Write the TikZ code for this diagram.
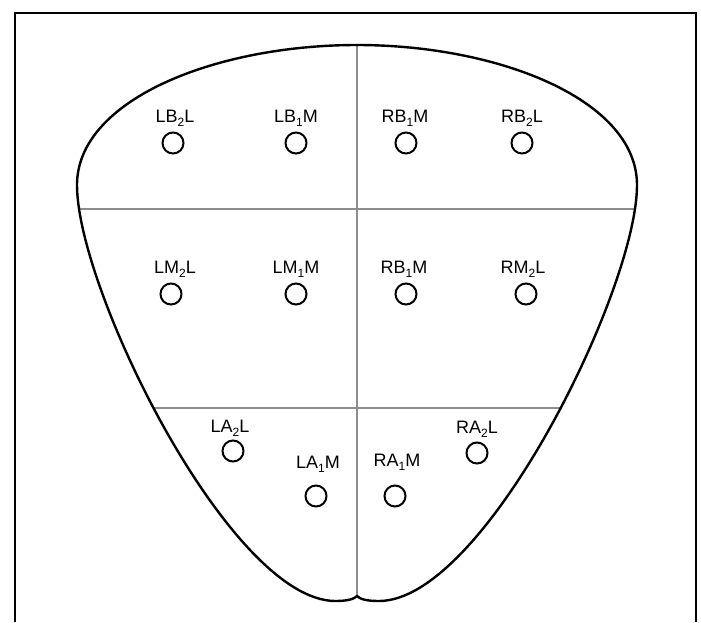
\documentclass[tikz,border=0pt]{standalone}
\usepackage{fontspec}
\setmainfont{Liberation Sans}
\usetikzlibrary{positioning}
\newcommand\lowidx[1]{\raisebox{-0.45ex}{\fontsize{6pt}{7pt}\selectfont #1}}

\begin{document}
\begin{tikzpicture}[x=0.5pt, y=-0.5pt,
    outline/.style={line width=1.2pt},
    divider/.style={line width=0.8pt, black!45},
    site/.style={circle, draw, line width=1pt, minimum size=10.5pt, inner sep=0pt},
    tag/.style={font=\fontsize{9pt}{10pt}\selectfont, inner sep=0pt, anchor=base}]
    \useasboundingbox (0,0) rectangle (701,622);

    % frame (open at the bottom)
    \coordinate (fbl) at (15,622);
    \coordinate (ftl) at (15,13);
    \coordinate (ftr) at (696,13);
    \coordinate (fbr) at (696,622);
    \draw[line width=1.2pt] (fbl) -- (ftl) -- (ftr) -- (fbr);

    \def\tongue{(357,45)
        .. controls (215,45) and (77,100) .. (77,185)
        .. controls (77,290) and (230,600) .. (335,601)
        .. controls (348,601) and (354,599) .. (357,596)
        .. controls (360,599) and (366,601) .. (379,601)
        .. controls (484,601) and (637,290) .. (637,185)
        .. controls (637,100) and (499,45) .. (357,45) -- cycle}

    % zones
    \begin{scope}
        \clip \tongue;
        \draw[divider] (357,30) -- (357,620);
        \draw[divider] (50,209) -- (660,209);
        \draw[divider] (50,408) -- (660,408);
    \end{scope}
    \draw[outline] \tongue;

    % back row
    \node[site] (lb2l) at (173,143) {};
    \node[tag] (lb2l-t) at (175,122) {LB\lowidx{2}L};
    \node[site] (lb1m) at (296,143) {};
    \node[tag] (lb1m-t) at (296,122) {LB\lowidx{1}M};
    \node[site] (rb1m) at (406,143) {};
    \node[tag] (rb1m-t) at (405,122) {RB\lowidx{1}M};
    \node[site] (rb2l) at (522,143) {};
    \node[tag] (rb2l-t) at (522,122) {RB\lowidx{2}L};

    % middle row
    \node[site] (lm2l) at (171,294) {};
    \node[tag] (lm2l-t) at (175,273) {LM\lowidx{2}L};
    \node[site] (lm1m) at (296,294) {};
    \node[tag] (lm1m-t) at (296,273) {LM\lowidx{1}M};
    \node[site] (rm1m) at (406,294) {};
    \node[tag] (rm1m-t) at (404,273) {RB\lowidx{1}M};
    \node[site] (rm2l) at (526,294) {};
    \node[tag] (rm2l-t) at (523,273) {RM\lowidx{2}L};

    % front row
    \node[site] (la2l) at (233,451) {};
    \node[tag] (la2l-t) at (230,432) {LA\lowidx{2}L};
    \node[site] (la1m) at (316,496) {};
    \node[tag] (la1m-t) at (318,468) {LA\lowidx{1}M};
    \node[site] (ra1m) at (395,496) {};
    \node[tag] (ra1m-t) at (397,466) {RA\lowidx{1}M};
    \node[site] (ra2l) at (477,453) {};
    \node[tag] (ra2l-t) at (477,433) {RA\lowidx{2}L};
\end{tikzpicture}
\end{document}
